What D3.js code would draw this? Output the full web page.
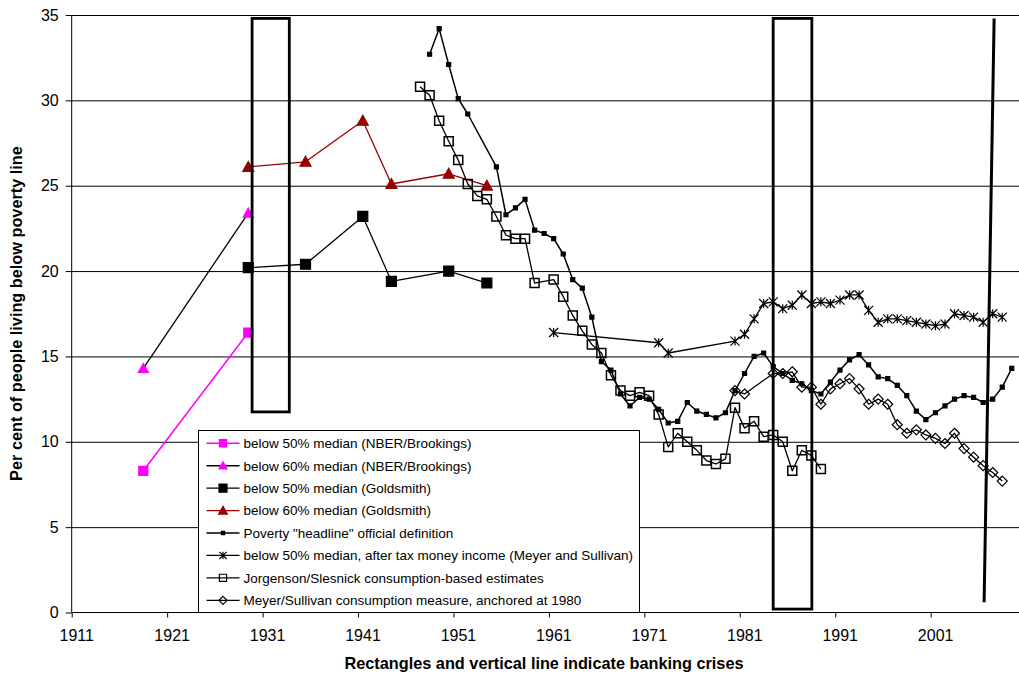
<!DOCTYPE html>
<html>
<head>
<meta charset="utf-8">
<script src="https://cdn.jsdelivr.net/npm/d3@7"></script>
<style>
  body { margin: 0; background: #fff; }
  svg { display: block; font-family: Arial, "Liberation Sans", sans-serif; }
</style>
</head>
<body>
<svg id="chart" width="1019" height="677"></svg>
<script>
// axis ticks (Excel rounds 1910.5 -> "1911" etc.)
const xTickValues = [1910.5, 1920.5, 1930.5, 1940.5, 1950.5, 1960.5, 1970.5, 1980.5, 1990.5, 2000.5];
const xTickLabels = ["1911", "1921", "1931", "1941", "1951", "1961", "1971", "1981", "1991", "2001"];
const yTickValues = [0, 5, 10, 15, 20, 25, 30, 35];

// series, [year, per cent]
const nber50 = [[1918, 8.3], [1929, 16.4]];
const nber60 = [[1918, 14.3], [1929, 23.4]];
const goldsmith50 = [[1929, 20.2], [1935, 20.4], [1941, 23.2], [1944, 19.4], [1950, 20.0], [1954, 19.3]];
const goldsmith60 = [[1929, 26.1], [1935, 26.4], [1941, 28.8], [1944, 25.1], [1950, 25.7], [1954, 25.0]];
const headline = [
  [1948, 32.7], [1949, 34.2], [1950, 32.1], [1951, 30.1], [1952, 29.2], [1955, 26.1], [1956, 23.3],
  [1957, 23.7], [1958, 24.2], [1959, 22.4], [1960, 22.2], [1961, 21.9], [1962, 21.0], [1963, 19.5],
  [1964, 19.0], [1965, 17.3], [1966, 14.7], [1967, 14.2], [1968, 12.8], [1969, 12.1], [1970, 12.6],
  [1971, 12.5], [1972, 11.9], [1973, 11.1], [1974, 11.2], [1975, 12.3], [1976, 11.8], [1977, 11.6],
  [1978, 11.4], [1979, 11.7], [1980, 13.0], [1981, 14.0], [1982, 15.0], [1983, 15.2], [1984, 14.4],
  [1985, 14.0], [1986, 13.6], [1987, 13.4], [1988, 13.0], [1989, 12.8], [1990, 13.5], [1991, 14.2],
  [1992, 14.8], [1993, 15.1], [1994, 14.5], [1995, 13.8], [1996, 13.7], [1997, 13.3], [1998, 12.7],
  [1999, 11.8], [2000, 11.3], [2001, 11.7], [2002, 12.1], [2003, 12.5], [2004, 12.7], [2005, 12.6],
  [2006, 12.3], [2007, 12.5], [2008, 13.2], [2009, 14.3]
];
const meyerIncome50 = [
  [1961, 16.4], [1972, 15.8], [1973, 15.2], [1980, 15.9], [1981, 16.3], [1982, 17.2], [1983, 18.1],
  [1984, 18.2], [1985, 17.8], [1986, 18.0], [1987, 18.6], [1988, 18.1], [1989, 18.2], [1990, 18.1],
  [1991, 18.3], [1992, 18.6], [1993, 18.6], [1994, 17.7], [1995, 17.0], [1996, 17.2], [1997, 17.2],
  [1998, 17.1], [1999, 17.0], [2000, 16.9], [2001, 16.8], [2002, 16.9], [2003, 17.5], [2004, 17.4],
  [2005, 17.3], [2006, 17.0], [2007, 17.5], [2008, 17.3]
];
const jorgenson = [
  [1947, 30.8], [1948, 30.3], [1949, 28.8], [1950, 27.6], [1951, 26.5], [1952, 25.1], [1953, 24.4],
  [1954, 24.2], [1955, 23.2], [1956, 22.1], [1957, 21.9], [1958, 21.9], [1959, 19.3], [1961, 19.5],
  [1962, 18.5], [1963, 17.4], [1964, 16.5], [1965, 15.7], [1966, 15.2], [1967, 13.9], [1968, 13.0],
  [1969, 12.7], [1970, 12.9], [1971, 12.7], [1972, 11.6], [1973, 9.7], [1974, 10.5], [1975, 10.0],
  [1976, 9.5], [1977, 8.9], [1978, 8.7], [1979, 9.0], [1980, 12.0], [1981, 10.8], [1982, 11.2],
  [1983, 10.3], [1984, 10.4], [1985, 10.0], [1986, 8.3], [1987, 9.5], [1988, 9.2], [1989, 8.4]
];
const meyerConsumption = [
  [1980, 13.0], [1981, 12.8], [1984, 14.0], [1985, 14.0], [1986, 14.1], [1987, 13.2], [1988, 13.2],
  [1989, 12.2], [1990, 13.1], [1991, 13.4], [1992, 13.7], [1993, 13.1], [1994, 12.2], [1995, 12.5],
  [1996, 12.2], [1997, 11.0], [1998, 10.5], [1999, 10.7], [2000, 10.4], [2001, 10.2], [2002, 9.9],
  [2003, 10.5], [2004, 9.6], [2005, 9.1], [2006, 8.6], [2007, 8.2], [2008, 7.7]
];

// banking crises: rectangles [from, to, bottom, top] and one slanted line
const crisisBoxes = [[1929.4, 1933.3, 11.75, 34.8], [1984.0, 1988.05, 0.2, 34.8]];
const crisisLine = [[2006.1, 0.6], [2007.15, 34.8]];

const seriesNames = [
  "below 50% median (NBER/Brookings)",
  "below 60% median (NBER/Brookings)",
  "below 50% median (Goldsmith)",
  "below 60% median (Goldsmith)",
  "Poverty \"headline\" official definition",
  "below 50% median, after tax money income (Meyer and Sullivan)",
  "Jorgenson/Slesnick consumption-based estimates",
  "Meyer/Sullivan consumption measure, anchored at 1980"
];

const series = [
  { data: nber50, line: "#ff00ff", lw: 1.5, marker: "square", size: 4.5, fill: "#ff00ff", stroke: "#ff00ff" },
  { data: nber60, line: "#000", lw: 1.3, marker: "triangle", size: 5, fill: "#ff00ff", stroke: "#ff00ff" },
  { data: goldsmith50, line: "#000", lw: 1.3, marker: "square", size: 5, fill: "#000", stroke: "#000" },
  { data: goldsmith60, line: "#990000", lw: 1.3, marker: "triangle", size: 5.5, fill: "#990000", stroke: "#990000" },
  { data: headline, line: "#000", lw: 1.5, marker: "square", size: 2, fill: "#000", stroke: "#000" },
  { data: meyerIncome50, line: "#000", lw: 1.3, marker: "asterisk", size: 4.5, fill: "none", stroke: "#000" },
  { data: jorgenson, line: "#000", lw: 1.3, marker: "square", size: 4.5, fill: "none", stroke: "#000" },
  { data: meyerConsumption, line: "#000", lw: 1.3, marker: "diamond", size: 5, fill: "none", stroke: "#000" }
];

const svg = d3.select("#chart");
const plot = { left: 71.7, right: 1026.1, top: 15, bottom: 612.5 };

const x = d3.scaleLinear().domain([1910.5, 2010.5]).range([plot.left, plot.right]);
const y = d3.scaleLinear().domain([0, 35]).range([plot.bottom, plot.top]);

function markerPath(type, s) {
  if (type === "square") return `M${-s},${-s}h${2 * s}v${2 * s}h${-2 * s}Z`;
  if (type === "triangle") return `M0,${-s}L${s},${s * 0.8}L${-s},${s * 0.8}Z`;
  if (type === "diamond") return `M0,${-s}L${s},0L0,${s}L${-s},0Z`;
  // asterisk: X with a vertical bar
  return `M${-s},${-s}L${s},${s}M${-s},${s}L${s},${-s}M0,${-s}V${s}`;
}

svg.append("rect").attr("width", 1019).attr("height", 677).attr("fill", "#fff");

// gridlines
svg.append("g")
  .attr("transform", `translate(${plot.left},0)`)
  .call(d3.axisLeft(y).tickValues(yTickValues.slice(1)).tickSize(-(plot.right - plot.left)).tickFormat(""))
  .call(g => g.select(".domain").remove())
  .call(g => g.selectAll("line").attr("stroke", "#000").attr("stroke-width", 1));

// axes
const yAxis = svg.append("g")
  .attr("transform", `translate(${plot.left},0)`)
  .call(d3.axisLeft(y).tickValues(yTickValues).tickSize(6).tickPadding(7).tickFormat(d3.format("d")));
yAxis.select(".domain").attr("stroke", "#000").attr("d", `M0,${plot.bottom}V${plot.top}`);
yAxis.selectAll("text").attr("font-size", 16).attr("fill", "#000").attr("font-family", "Arial, 'Liberation Sans', sans-serif");

const xAxis = svg.append("g")
  .attr("transform", `translate(0,${plot.bottom})`)
  .call(d3.axisBottom(x).tickValues(xTickValues).tickSize(5).tickPadding(12)
    .tickFormat((d, i) => xTickLabels[i]));
xAxis.select(".domain").attr("stroke", "#000").attr("d", `M${plot.left},0H${plot.right}`);
xAxis.selectAll("text").attr("font-size", 16).attr("fill", "#000").attr("dx", 4.5)
  .attr("font-family", "Arial, 'Liberation Sans', sans-serif");

// series
const line = d3.line().x(d => x(d[0])).y(d => y(d[1]));

series.forEach(s => {
  const g = svg.append("g");
  g.append("path")
    .datum(s.data)
    .attr("d", line)
    .attr("fill", "none")
    .attr("stroke", s.line)
    .attr("stroke-width", s.lw)
    .attr("stroke-linejoin", "round");
  g.selectAll("path.m")
    .data(s.data)
    .join("path")
    .attr("class", "m")
    .attr("transform", d => `translate(${x(d[0])},${y(d[1])})`)
    .attr("d", markerPath(s.marker, s.size))
    .attr("fill", s.fill)
    .attr("stroke", s.stroke)
    .attr("stroke-width", s.marker === "square" && s.fill === "none" ? 1.5 : 1.2);
});

// legend
const legend = svg.append("g");
legend.append("rect")
  .attr("x", 198.5).attr("y", 430.5)
  .attr("width", 441).attr("height", plot.bottom - 430.5)
  .attr("fill", "#fff").attr("stroke", "#000").attr("stroke-width", 1);

const rowY = d3.scaleLinear().domain([0, 7]).range([443.3, 600.3]);
series.forEach((s, i) => {
  const ry = rowY(i);
  legend.append("line")
    .attr("x1", 206.5).attr("x2", 239.5).attr("y1", ry).attr("y2", ry)
    .attr("stroke", s.line).attr("stroke-width", s.lw);
  legend.append("path")
    .attr("transform", `translate(223,${ry})`)
    .attr("d", markerPath(s.marker, s.size * 0.8))
    .attr("fill", s.fill).attr("stroke", s.stroke).attr("stroke-width", 1.2);
  legend.append("text")
    .attr("x", 243.5).attr("y", ry).attr("dy", "0.36em")
    .attr("font-size", 13.5).attr("fill", "#000")
    .text(seriesNames[i]);
});

// banking crises
svg.selectAll("rect.crisis")
  .data(crisisBoxes)
  .join("rect")
  .attr("class", "crisis")
  .attr("x", d => x(d[0]))
  .attr("width", d => x(d[1]) - x(d[0]))
  .attr("y", d => y(d[3]))
  .attr("height", d => y(d[2]) - y(d[3]))
  .attr("fill", "none")
  .attr("stroke", "#000")
  .attr("stroke-width", 2.8);

svg.append("path")
  .datum(crisisLine)
  .attr("d", line)
  .attr("stroke", "#000")
  .attr("stroke-width", 3);

// axis titles
svg.append("text")
  .attr("transform", "translate(22,313.5) rotate(-90)")
  .attr("text-anchor", "middle")
  .attr("font-size", 16.3).attr("font-weight", "bold")
  .text("Per cent of people living below poverty line");

svg.append("text")
  .attr("x", 544).attr("y", 668.5)
  .attr("text-anchor", "middle")
  .attr("font-size", 16.3).attr("font-weight", "bold")
  .text("Rectangles and vertical line indicate banking crises");
</script>
</body>
</html>
